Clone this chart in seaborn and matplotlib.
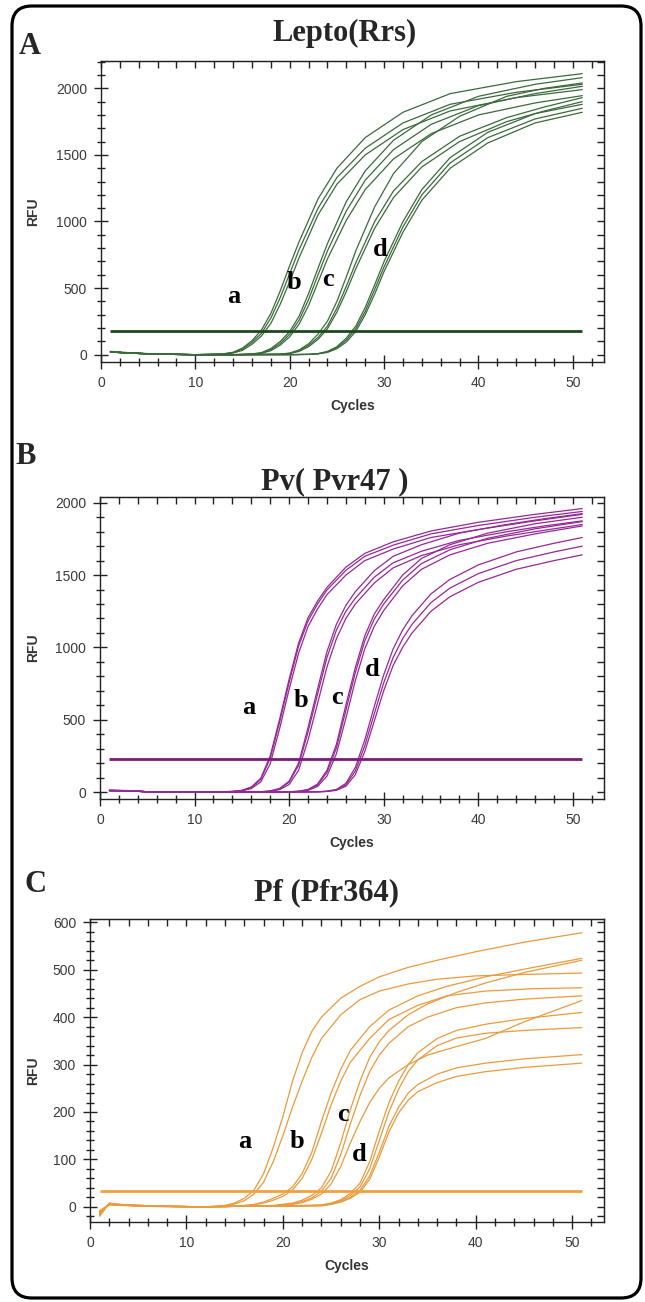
import pandas as pd
import seaborn as sns
import matplotlib
matplotlib.use("Agg")
import matplotlib.pyplot as plt
from matplotlib.ticker import MultipleLocator
from matplotlib.patches import FancyBboxPatch

# ---- Lepto (Rrs) ----
lepto_cyc_a = [1, 3, 6, 10, 13, 14, 15, 16, 17, 18, 19, 20, 21, 23, 25, 28, 32, 37, 44, 51]
lepto_a = [
    [25, 15, 5, 0, 7, 18, 50, 105, 185, 310, 480, 670, 850, 1170, 1400, 1630, 1820, 1960, 2050, 2110],
    [22, 12, 4, 0, 6, 15, 42, 92, 160, 275, 430, 610, 790, 1100, 1330, 1550, 1740, 1880, 1970, 2030],
    [20, 12, 4, 0, 5, 12, 33, 78, 140, 235, 380, 550, 730, 1050, 1280, 1500, 1690, 1830, 1930, 1990],
]
lepto_cyc_b = [1, 3, 6, 10, 14, 16, 17, 18, 19, 20, 21, 22, 23, 24, 26, 28, 31, 35, 40, 46, 51]
lepto_b = [
    [22, 12, 4, 0, 0, 6, 15, 46, 100, 175, 290, 460, 650, 835, 1150, 1380, 1610, 1800, 1940, 2030, 2080],
    [20, 12, 4, 0, 0, 5, 12, 38, 85, 155, 260, 415, 600, 780, 1080, 1310, 1540, 1730, 1870, 1960, 2015],
    [20, 12, 4, 0, 0, 4, 10, 30, 72, 135, 230, 370, 545, 720, 1010, 1240, 1470, 1660, 1800, 1890, 1945],
]
lepto_cyc_c = [1, 3, 6, 10, 15, 19, 20, 21, 22, 23, 24, 25, 26, 27, 29, 31, 34, 38, 43, 47, 51]
lepto_c = [
    [22, 12, 4, 0, 0, 5, 12, 36, 82, 155, 252, 400, 585, 780, 1110, 1360, 1600, 1790, 1940, 2000, 2040],
    [20, 12, 4, 0, 0, 4, 10, 30, 70, 130, 215, 350, 515, 690, 1000, 1230, 1450, 1640, 1780, 1860, 1930],
    [20, 12, 4, 0, 0, 3, 8, 25, 60, 115, 195, 320, 475, 645, 950, 1180, 1410, 1600, 1750, 1830, 1900],
]
lepto_cyc_d = [1, 3, 6, 10, 15, 20, 22, 23, 24, 25, 26, 27, 28, 29, 30, 32, 34, 37, 41, 46, 51]
lepto_d = [
    [22, 12, 4, 0, 0, 0, 3, 8, 25, 60, 125, 215, 355, 525, 700, 1000, 1240, 1480, 1670, 1810, 1880],
    [20, 12, 4, 0, 0, 0, 2, 7, 20, 52, 110, 195, 325, 490, 660, 960, 1200, 1440, 1630, 1770, 1850],
    [20, 12, 4, 0, 0, 0, 2, 6, 17, 45, 95, 175, 300, 455, 625, 920, 1160, 1400, 1590, 1740, 1820],
]
lepto_threshold = 175

# ---- Pv (Pvr47) ----
pv_cyc_a = [1, 3, 5, 10, 13, 14, 15, 16, 17, 18, 19, 20, 21, 22, 23, 24, 26, 28, 31, 35, 40, 46, 51]
pv_a = [
    [10, 10, 2, 0, 2, 5, 12, 35, 95, 250, 505, 780, 1030, 1205, 1320, 1415, 1555, 1650, 1730, 1805, 1865, 1920, 1960],
    [12, 10, 2, 0, 2, 4, 10, 30, 87, 233, 485, 757, 1009, 1183, 1300, 1397, 1533, 1630, 1707, 1785, 1843, 1900, 1940],
    [10, 8, 2, 0, 1, 3, 8, 24, 70, 195, 440, 710, 960, 1145, 1265, 1365, 1500, 1600, 1680, 1760, 1815, 1875, 1920],
]
pv_cyc_b = [1, 3, 5, 10, 15, 17, 18, 19, 20, 21, 22, 23, 24, 25, 26, 27, 29, 31, 34, 38, 43, 47, 51]
pv_b = [
    [10, 10, 2, 0, 0, 2, 8, 25, 75, 200, 445, 710, 970, 1160, 1290, 1385, 1530, 1630, 1710, 1790, 1850, 1890, 1925],
    [12, 9, 2, 0, 0, 2, 7, 22, 68, 185, 415, 675, 930, 1120, 1250, 1340, 1485, 1585, 1665, 1740, 1800, 1840, 1875],
    [10, 8, 2, 0, 0, 1, 5, 17, 52, 150, 360, 610, 865, 1060, 1200, 1300, 1445, 1550, 1635, 1710, 1770, 1810, 1850],
]
pv_cyc_c = [1, 3, 5, 10, 15, 20, 21, 22, 23, 24, 25, 26, 27, 28, 29, 30, 32, 34, 37, 41, 46, 51]
pv_c = [
    [10, 10, 2, 0, 0, 2, 6, 18, 55, 150, 330, 600, 860, 1080, 1230, 1330, 1500, 1615, 1710, 1790, 1855, 1900],
    [12, 9, 2, 0, 0, 2, 5, 15, 48, 135, 305, 565, 825, 1045, 1195, 1300, 1465, 1580, 1675, 1755, 1820, 1870],
    [10, 8, 2, 0, 0, 1, 4, 12, 38, 110, 265, 510, 770, 990, 1145, 1255, 1425, 1540, 1640, 1720, 1785, 1840],
]
pv_cyc_d = [1, 3, 5, 10, 15, 20, 23, 24, 25, 26, 27, 28, 29, 30, 31, 32, 33, 35, 37, 40, 44, 48, 51]
pv_d = [
    [10, 10, 2, 0, 0, 0, 2, 6, 18, 60, 170, 360, 590, 810, 990, 1120, 1220, 1370, 1470, 1570, 1660, 1720, 1760],
    [12, 9, 2, 0, 0, 0, 2, 5, 15, 50, 145, 320, 540, 755, 930, 1060, 1160, 1310, 1410, 1510, 1600, 1660, 1700],
    [10, 8, 2, 0, 0, 0, 1, 4, 12, 40, 120, 280, 490, 700, 875, 1000, 1100, 1250, 1350, 1450, 1540, 1600, 1640],
]
pv_threshold = 228

# ---- Pf (Pfr364) ----
pf_cyc_a = [1, 2, 3, 5, 8, 12, 14, 15, 16, 17, 18, 19, 20, 21, 22, 23, 24, 26, 28, 30, 33, 36, 40, 45, 51]
pf_a = [
    [-18, 7, 5, 3, 1, 0, 3, 8, 18, 35, 70, 125, 190, 265, 325, 370, 400, 440, 465, 485, 505, 520, 538, 558, 578],
    [-12, 5, 4, 2, 1, 0, 2, 6, 13, 27, 52, 95, 150, 210, 265, 315, 355, 405, 437, 455, 470, 480, 487, 490, 493],
]
pf_cyc_b = [1, 2, 3, 5, 8, 12, 15, 17, 18, 19, 20, 21, 22, 23, 24, 25, 26, 27, 29, 31, 34, 37, 41, 46, 51]
pf_b = [
    [-15, 6, 5, 3, 1, 0, 1, 5, 10, 18, 27, 42, 70, 115, 180, 240, 290, 330, 380, 415, 445, 465, 485, 505, 524],
    [-10, 4, 3, 2, 0, 0, 1, 4, 8, 14, 22, 36, 60, 100, 155, 215, 265, 305, 355, 395, 425, 445, 455, 460, 462],
]
pf_cyc_c = [1, 2, 3, 5, 8, 12, 15, 19, 21, 22, 23, 24, 25, 26, 27, 28, 29, 30, 31, 33, 35, 38, 41, 45, 51]
pf_c = [
    [-14, 7, 5, 3, 1, 0, 1, 3, 8, 14, 24, 40, 75, 135, 205, 265, 315, 348, 372, 405, 428, 452, 472, 494, 520],
    [-8, 5, 4, 2, 1, 0, 1, 2, 6, 11, 19, 33, 60, 110, 175, 235, 285, 320, 345, 380, 400, 420, 430, 438, 445],
    [-16, 6, 4, 2, 1, 0, 1, 2, 5, 9, 16, 27, 48, 85, 135, 180, 220, 250, 272, 300, 320, 338, 355, 390, 435],
]
pf_cyc_d = [1, 2, 3, 5, 8, 12, 15, 20, 24, 25, 26, 27, 28, 29, 30, 31, 32, 33, 34, 36, 38, 41, 45, 51]
pf_d = [
    [-12, 6, 5, 3, 1, 0, 1, 2, 4, 8, 15, 28, 50, 95, 160, 220, 265, 300, 325, 355, 372, 385, 397, 410],
    [-20, 8, 5, 3, 1, 0, 1, 2, 3, 7, 13, 24, 42, 80, 140, 200, 248, 285, 310, 340, 356, 366, 372, 378],
    [-10, 5, 4, 2, 1, 0, 1, 1, 3, 6, 11, 20, 35, 65, 115, 170, 210, 240, 258, 280, 293, 303, 312, 321],
    [-14, 7, 4, 2, 1, 0, 1, 1, 2, 5, 10, 18, 31, 58, 105, 158, 198, 225, 243, 262, 275, 285, 294, 303],
]
pf_threshold = 33

# curve group labels (cycle, RFU)
lepto_labels = {"a": (14.1, 436), "b": (20.5, 541), "c": (24.0, 564), "d": (29.6, 790)}
pv_labels = {"a": (15.7, 588), "b": (21.3, 636), "c": (25.1, 657), "d": (28.8, 844)}
pf_labels = {"a": (16.0, 138), "b": (21.5, 138), "c": (26.2, 194), "d": (27.9, 110)}


def to_long(groups):
    rows = []
    for g, (cyc, curves) in groups.items():
        for i, vals in enumerate(curves):
            for c, v in zip(cyc, vals):
                rows.append((c, v, g + str(i)))
    return pd.DataFrame(rows, columns=["cycle", "rfu", "curve"])


sns.set_style("ticks")
plt.rcParams["font.family"] = ["Liberation Sans", "DejaVu Sans"]

W, H = 645, 1302
fig = plt.figure(figsize=(W / 100, H / 100), dpi=100)

# rounded outer frame
bg = fig.add_axes([0, 0, 1, 1], zorder=-5)
bg.set_xlim(0, W)
bg.set_ylim(H, 0)
bg.axis("off")
bg.add_patch(FancyBboxPatch((12, 6), 629, 1292, boxstyle="round,pad=0,rounding_size=20",
                            fill=False, lw=2.3, ec="black"))

panels = [
    dict(rect=[101, 61, 604, 362], groups={"a": (lepto_cyc_a, lepto_a), "b": (lepto_cyc_b, lepto_b),
                                           "c": (lepto_cyc_c, lepto_c), "d": (lepto_cyc_d, lepto_d)},
         thr=lepto_threshold, color="#3a6a3a", thr_color="#1d4a1d", ylim=(-55, 2205), ymaj=500, ymin=100,
         labels=lepto_labels, title="Lepto(Rrs)", title_xy=(345, 33), letter="A", letter_xy=(30, 46)),
    dict(rect=[100, 497, 604, 799], groups={"a": (pv_cyc_a, pv_a), "b": (pv_cyc_b, pv_b),
                                            "c": (pv_cyc_c, pv_c), "d": (pv_cyc_d, pv_d)},
         thr=pv_threshold, color="#962896", thr_color="#7a1a7a", ylim=(-48, 2040), ymaj=500, ymin=100,
         labels=pv_labels, title="Pv( Pvr47 )", title_xy=(335, 482), letter="B", letter_xy=(26, 457)),
    dict(rect=[90, 919, 604, 1222], groups={"a": (pf_cyc_a, pf_a), "b": (pf_cyc_b, pf_b),
                                            "c": (pf_cyc_c, pf_c), "d": (pf_cyc_d, pf_d)},
         thr=pf_threshold, color="#ec9a3c", thr_color="#f2a23c", ylim=(-32, 607), ymaj=100, ymin=20,
         labels=pf_labels, title="Pf (Pfr364)", title_xy=(326, 893), letter="C", letter_xy=(36, 884)),
]

serif = ["Liberation Serif", "DejaVu Serif"]

for p in panels:
    x0, y0, x1, y1 = p["rect"]
    ax = fig.add_axes([x0 / W, 1 - y1 / H, (x1 - x0) / W, (y1 - y0) / H])
    df = to_long(p["groups"])
    sns.lineplot(data=df, x="cycle", y="rfu", units="curve", estimator=None,
                 color=p["color"], lw=0.9, ax=ax, legend=False)
    ax.hlines(p["thr"], 1, 51, color=p["thr_color"], lw=2.0, zorder=3)

    ax.set_xlim(0, 53.3)
    ax.set_ylim(*p["ylim"])
    ax.xaxis.set_major_locator(MultipleLocator(10))
    ax.xaxis.set_minor_locator(MultipleLocator(2))
    ax.yaxis.set_major_locator(MultipleLocator(p["ymaj"]))
    ax.yaxis.set_minor_locator(MultipleLocator(p["ymin"]))
    ax.tick_params(which="major", direction="inout", length=10, width=1, color="#222222",
                   labelcolor="#3a3a3a", labelsize=10, pad=5)
    ax.tick_params(which="minor", direction="inout", length=6, width=1, color="#222222")
    for s in ax.spines.values():
        s.set_linewidth(1.0)
        s.set_color("#222222")

    top = ax.secondary_xaxis("top")
    top.xaxis.set_major_locator(MultipleLocator(10))
    top.xaxis.set_minor_locator(MultipleLocator(2))
    top.tick_params(which="both", direction="in", length=5, width=1, color="#222222", labeltop=False)
    right = ax.secondary_yaxis("right")
    right.yaxis.set_major_locator(MultipleLocator(p["ymaj"]))
    right.yaxis.set_minor_locator(MultipleLocator(p["ymin"]))
    right.tick_params(which="both", direction="in", length=5, width=1, color="#222222", labelright=False)

    ax.set_xlabel("Cycles", fontsize=10, fontweight="bold", color="#333333")
    ax.set_ylabel("RFU", fontsize=10, fontweight="bold", color="#333333")
    ax.xaxis.set_label_coords(0.5, -37 / (y1 - y0))
    ax.yaxis.set_label_coords(-(x0 - 40) / (x1 - x0), 0.5)

    for k, (cx, cy) in p["labels"].items():
        ax.text(cx, cy, k, fontsize=19, fontweight="bold", family=serif,
                ha="center", va="center", color="black")

    fig.text(p["title_xy"][0] / W, 1 - p["title_xy"][1] / H, p["title"], fontsize=22,
             fontweight="bold", family=serif, ha="center", va="center")
    fig.text(p["letter_xy"][0] / W, 1 - p["letter_xy"][1] / H, p["letter"], fontsize=22,
             fontweight="bold", family=serif, ha="center", va="center")

fig.savefig("out.png", dpi=100)
